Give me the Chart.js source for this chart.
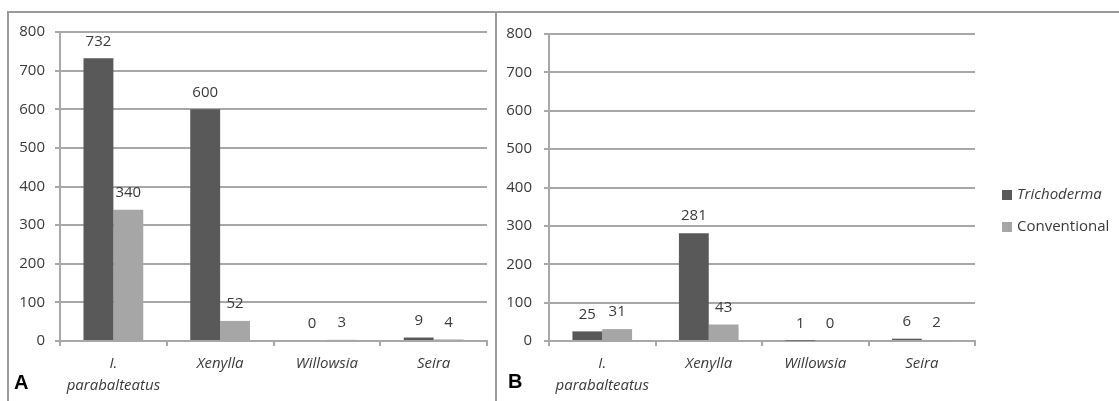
<!DOCTYPE html>
<html>
<head>
<meta charset="utf-8">
<script src="https://cdn.jsdelivr.net/npm/chart.js@4"></script>
<style>
  body { margin: 0; background: #fff; width: 1119px; height: 401px; overflow: hidden; position: relative; font-family: "Open Sans", sans-serif; }
  .frameTop { position: absolute; left: 8px; top: 11px; width: 1111px; height: 2px; background: #9a9a9a; }
  .frameLeft { position: absolute; left: 7px; top: 11px; width: 2px; height: 390px; background: #9a9a9a; }
  .divider { position: absolute; left: 495px; top: 11px; width: 2px; height: 390px; background: #9a9a9a; }
  canvas { position: absolute; }
  #chartA { left: 9px; top: 13px; }
  #chartB { left: 497px; top: 13px; }
  .panel { position: absolute; font-family: "Liberation Sans", Arial, sans-serif; font-weight: bold; font-size: 20px; color: #000; }
  #legend { position: absolute; left: 1002px; top: 182px; font-size: 15px; color: #3a3a3a; }
  #legend div { height: 32px; line-height: 22px; white-space: nowrap; }
  #legend span.box { display: inline-block; width: 10px; height: 10px; margin-right: 5px; vertical-align: -1px; }
</style>
</head>
<body>
<div class="frameTop"></div>
<div class="frameLeft"></div>
<div class="divider"></div>
<canvas id="chartA" width="486" height="388"></canvas>
<canvas id="chartB" width="622" height="388"></canvas>
<div class="panel" style="left:14px; top:371px;">A</div>
<div class="panel" style="left:508px; top:370px;">B</div>
<div id="legend"></div>
<script>
// data
var categories = [['I.', 'parabalteatus'], 'Xenylla', 'Willowsia', 'Seira'];
var seriesNames = ['Trichoderma', 'Conventional'];
var seriesItalic = [true, false];
var seriesColors = ['#595959', '#a6a6a6'];
var trichodermaA = [732, 600, 0, 9];
var conventionalA = [340, 52, 3, 4];
var trichodermaB = [25, 281, 1, 6];
var conventionalB = [31, 43, 0, 2];
var yMax = 800;
var yStep = 100;

var textColor = '#3a3a3a';
var gridColor = '#a8a8a8';

// value labels above the bars
var valueLabels = {
  id: 'valueLabels',
  afterDatasetsDraw: function (chart) {
    var ctx = chart.ctx;
    ctx.save();
    ctx.font = '15px "Open Sans"';
    ctx.fillStyle = textColor;
    ctx.textAlign = 'center';
    ctx.textBaseline = 'middle';
    chart.data.datasets.forEach(function (ds, i) {
      chart.getDatasetMeta(i).data.forEach(function (bar, j) {
        ctx.fillText(String(ds.data[j]), bar.x, bar.y - 17);
      });
    });
    ctx.restore();
  }
};

function makeChart(id, dataT, dataC, axisWidth, labelPad, rightPad) {
  return new Chart(document.getElementById(id), {
    type: 'bar',
    data: {
      labels: categories,
      datasets: [
        { label: seriesNames[0], data: dataT, backgroundColor: seriesColors[0], categoryPercentage: 0.56, barPercentage: 1 },
        { label: seriesNames[1], data: dataC, backgroundColor: seriesColors[1], categoryPercentage: 0.56, barPercentage: 1 }
      ]
    },
    options: {
      responsive: false,
      animation: false,
      layout: { padding: { top: 18, right: rightPad, left: 0, bottom: 0 } },
      plugins: { legend: { display: false }, tooltip: { enabled: false } },
      scales: {
        x: {
          offset: true,
          grid: { offset: true, drawOnChartArea: false, drawTicks: true, tickLength: 5, color: gridColor, lineWidth: 2 },
          border: { color: gridColor, width: 2 },
          ticks: {
            color: textColor, padding: 7, maxRotation: 0, autoSkip: false,
            font: { family: 'Open Sans', size: 15, style: 'italic', lineHeight: 1.47 }
          },
          afterFit: function (scale) { scale.height = 60; }
        },
        y: {
          min: 0, max: yMax,
          grid: { color: gridColor, lineWidth: 2, tickLength: 5 },
          border: { color: gridColor, width: 2 },
          ticks: { stepSize: yStep, color: textColor, padding: labelPad, font: { family: 'Open Sans', size: 15 } },
          afterFit: function (scale) { scale.width = axisWidth; }
        }
      }
    },
    plugins: [valueLabels]
  });
}

makeChart('chartA', trichodermaA, conventionalA, 51, 10, 8);
makeChart('chartB', trichodermaB, conventionalB, 52, 12, 144);

// legend
var legend = document.getElementById('legend');
seriesNames.forEach(function (name, i) {
  var row = document.createElement('div');
  var box = document.createElement('span');
  box.className = 'box';
  box.style.background = seriesColors[i];
  var txt = document.createElement('span');
  txt.textContent = name;
  if (seriesItalic[i]) txt.style.fontStyle = 'italic';
  row.appendChild(box);
  row.appendChild(txt);
  legend.appendChild(row);
});
</script>
</body>
</html>
